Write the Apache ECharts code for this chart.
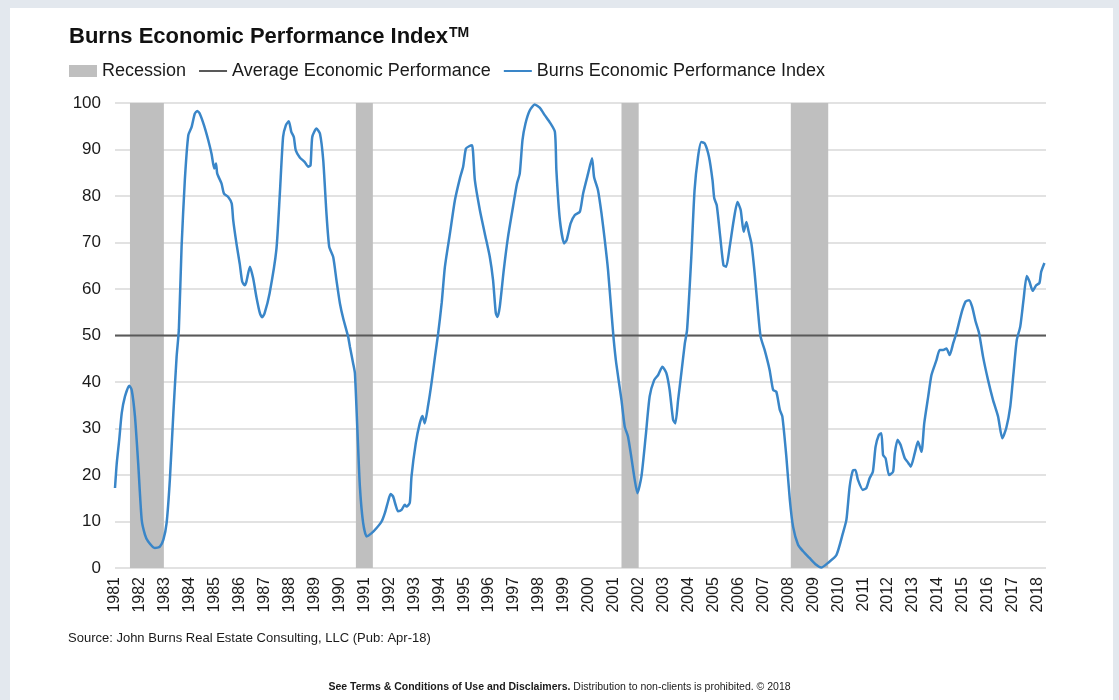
<!DOCTYPE html>
<html lang="en">
<head>
    <meta charset="UTF-8">
    <title>Burns Economic Performance Index</title>
    <script src="https://cdn.jsdelivr.net/npm/echarts@6.0.0/dist/echarts.min.js"></script>
    <style>
        body { margin: 0; background: #e3e8ee; }
        #panel { position: absolute; left: 10px; top: 8px; width: 1103px; height: 692px; background: #fff; }
        #chart { position: absolute; left: 0; top: 0; width: 1119px; height: 700px; }
    </style>
</head>
<body>
<div id="panel"></div>
<div id="chart"></div>
<script>
    // recession periods (decimal years)
    var recStart = [1981.6, 1990.66, 2001.31, 2008.1];
    var recEnd = [1982.96, 1991.34, 2002.0, 2009.6];

    var avgLevel = 50;
    var xMin = 1981, xMax = 2018.333;

    // Burns Economic Performance Index, [decimal year, value]
    var bepi = [
        [1981.0, 17.2], [1981.07, 22.5], [1981.17, 27.6], [1981.27, 33.3], [1981.4, 36.9], [1981.57, 39.2],
        [1981.67, 38.3], [1981.8, 32.6], [1981.93, 22.5], [1982.07, 10.4], [1982.2, 7.2], [1982.33, 5.7],
        [1982.6, 4.3], [1982.8, 4.6], [1982.94, 6.1], [1983.07, 9.7], [1983.2, 19], [1983.34, 33.3],
        [1983.47, 45.4], [1983.56, 51.2], [1983.67, 69.1], [1983.8, 83.4], [1983.94, 93.1], [1984.07, 94.8],
        [1984.2, 97.7], [1984.3, 98.3], [1984.4, 97.7], [1984.57, 95.2], [1984.74, 92], [1984.87, 89.1],
        [1984.98, 85.9], [1985.05, 87], [1985.1, 84.8], [1985.27, 82.7], [1985.37, 80.5], [1985.54, 79.8],
        [1985.68, 78.4], [1985.74, 74.8], [1985.87, 69.8], [1986.0, 65.5], [1986.1, 61.6], [1986.2, 60.8],
        [1986.27, 61.6], [1986.41, 64.8], [1986.54, 62.3], [1986.67, 58.3], [1986.81, 54.8], [1986.9, 53.9],
        [1987.0, 54.8], [1987.2, 59.1], [1987.47, 68.4], [1987.61, 80.5], [1987.74, 92.7], [1987.85, 95.2],
        [1987.97, 96.1], [1988.07, 93.8], [1988.17, 92.7], [1988.25, 89.8], [1988.41, 88.3], [1988.61, 87.3],
        [1988.75, 86.3], [1988.84, 86.6], [1988.91, 92.7], [1989.08, 94.5], [1989.22, 93.4], [1989.35, 87.7],
        [1989.48, 76.2], [1989.59, 69.1], [1989.75, 66.9], [1989.88, 61.9], [1990.02, 56.9], [1990.15, 53.7],
        [1990.35, 49.7], [1990.42, 47.6], [1990.55, 44], [1990.62, 41.9], [1990.72, 29.7], [1990.82, 17.5],
        [1990.95, 9.7], [1991.09, 6.8], [1991.29, 7.5], [1991.49, 8.6], [1991.69, 10], [1991.82, 11.8],
        [1991.95, 14.3], [1992.05, 15.9], [1992.15, 15.4], [1992.25, 13.6], [1992.35, 12.2], [1992.49, 12.5],
        [1992.62, 13.6], [1992.69, 13.2], [1992.82, 14], [1992.89, 19.7], [1993.06, 26.8], [1993.22, 31.1],
        [1993.33, 32.7], [1993.42, 31.1], [1993.56, 35.1], [1993.69, 39.7], [1993.83, 45.4], [1993.96, 50.5],
        [1994.1, 57], [1994.23, 64.8], [1994.43, 71.9], [1994.63, 79.1], [1994.83, 83.8], [1994.96, 86.3],
        [1995.07, 90.2], [1995.2, 90.7], [1995.32, 90.9], [1995.43, 83.4], [1995.63, 77], [1995.83, 71.9],
        [1996.03, 66.9], [1996.16, 61.9], [1996.27, 54.8], [1996.34, 54], [1996.43, 56.2], [1996.59, 64.1],
        [1996.76, 71.2], [1996.96, 77.7], [1997.12, 82.7], [1997.23, 84.8], [1997.34, 92], [1997.46, 95.6],
        [1997.63, 98.4], [1997.83, 99.7], [1998.03, 99], [1998.23, 97.4], [1998.43, 95.9], [1998.64, 93.8],
        [1998.7, 85.5], [1998.84, 74.8], [1999.01, 69.8], [1999.11, 70.5], [1999.27, 74.1], [1999.44, 75.9],
        [1999.64, 76.6], [1999.77, 80.5], [1999.97, 84.8], [2000.13, 88.1], [2000.21, 84.1], [2000.37, 81.2],
        [2000.51, 76.2], [2000.64, 70.5], [2000.77, 64.1], [2000.91, 54.8], [2001.0, 49], [2001.1, 44],
        [2001.31, 36.1], [2001.44, 30.4], [2001.57, 28.3], [2001.7, 24], [2001.84, 19], [2001.95, 16.1],
        [2002.11, 19.7], [2002.28, 28.3], [2002.44, 36.9], [2002.62, 40.4], [2002.78, 41.5], [2002.95, 43.3],
        [2003.11, 41.9], [2003.24, 38.3], [2003.38, 31.9], [2003.47, 31.1], [2003.58, 36.1], [2003.71, 41.9],
        [2003.85, 48.3], [2003.94, 51.2], [2004.11, 66.9], [2004.24, 81.2], [2004.38, 88.4], [2004.51, 91.6],
        [2004.65, 91.3], [2004.82, 88.4], [2004.96, 83.4], [2005.03, 79.5], [2005.13, 78], [2005.27, 71.2],
        [2005.4, 65.1], [2005.51, 64.8], [2005.65, 69.1], [2005.81, 74.8], [2005.96, 78.7], [2006.09, 77],
        [2006.21, 72.3], [2006.32, 74.4], [2006.41, 72.3], [2006.52, 69.8], [2006.65, 63.4], [2006.78, 55.5],
        [2006.89, 49.7], [2007.05, 46.9], [2007.25, 42.6], [2007.39, 38.3], [2007.52, 37.9], [2007.66, 34],
        [2007.76, 32.6], [2007.92, 24], [2008.06, 14.7], [2008.19, 8.9], [2008.39, 5], [2008.59, 3.6],
        [2008.86, 2.1], [2009.12, 0.7], [2009.32, 0.1], [2009.59, 1.1], [2009.93, 2.8], [2010.19, 7.5],
        [2010.33, 10.4], [2010.46, 17.5], [2010.59, 21], [2010.69, 21.1], [2010.79, 19], [2010.99, 16.8],
        [2011.13, 17.2], [2011.26, 19.3], [2011.39, 20.7], [2011.5, 26.1], [2011.63, 28.6], [2011.73, 29],
        [2011.8, 24.3], [2011.9, 23.6], [2012.04, 20], [2012.2, 20.7], [2012.27, 24.7], [2012.38, 27.6],
        [2012.5, 26.5], [2012.67, 23.6], [2012.81, 22.6], [2012.91, 21.8], [2013.07, 24.7], [2013.2, 27.2],
        [2013.34, 25], [2013.45, 31.1], [2013.61, 36.9], [2013.74, 41.5], [2013.94, 44.7], [2014.07, 46.9],
        [2014.21, 46.9], [2014.34, 47.2], [2014.47, 45.8], [2014.61, 48.3], [2014.74, 50.5], [2014.87, 53.3],
        [2014.98, 55.5], [2015.11, 57.3], [2015.25, 57.6], [2015.37, 56.2], [2015.51, 53], [2015.65, 50.5],
        [2015.81, 45.4], [2016.01, 40.4], [2016.21, 36.1], [2016.41, 32.6], [2016.58, 27.9], [2016.74, 30.1],
        [2016.9, 34.7], [2017.03, 41.9], [2017.16, 49], [2017.3, 51.9], [2017.43, 57.6], [2017.56, 62.8],
        [2017.67, 61.6], [2017.8, 59.6], [2017.94, 60.8], [2018.07, 61.3], [2018.14, 63.7], [2018.27, 65.6]
    ];

    var font = 'Liberation Sans, Arial, sans-serif';

    // thin bar inside a 28x12 box (tiny corner dots keep the box size)
    var lineIcon = 'path://M0,0h0.01v0.01h-0.01z M0,5h28v2h-28z M27.99,11.99h0.01v0.01h-0.01z';

    var recData = recStart.map(function (s, i) {
        return [s, recEnd[i]];
    });

    var option = {
        animation: false,
        backgroundColor: 'transparent',
        textStyle: { fontFamily: font },
        title: {
            text: '{a|Burns Economic Performance Index}{b|TM}',
            left: 64,
            top: 21,
            textStyle: {
                rich: {
                    a: { fontSize: 22, fontWeight: 'bold', color: '#111', fontFamily: font },
                    b: { fontSize: 14, fontWeight: 'bold', color: '#111', fontFamily: font, verticalAlign: 'top', padding: [0, 0, 8, 1] }
                }
            }
        },
        legend: {
            left: 64,
            top: 57,
            itemWidth: 28,
            itemHeight: 12,
            itemGap: 13,
            textStyle: { fontSize: 18, color: '#1a1a1a', fontFamily: font },
            data: [
                { name: 'Recession', icon: 'rect' },
                { name: 'Average Economic Performance', icon: lineIcon },
                { name: 'Burns Economic Performance Index', icon: lineIcon }
            ]
        },
        grid: {
            left: 115,
            right: 73,
            top: 103,
            bottom: 132
        },
        xAxis: {
            type: 'value',
            min: xMin,
            max: xMax,
            interval: 1,
            axisLine: { show: false },
            axisTick: { show: false },
            splitLine: { show: false },
            axisLabel: {
                rotate: 90,
                margin: 9,
                fontSize: 16,
                color: '#1a1a1a',
                showMaxLabel: false,
                formatter: function (v) { return Math.round(v); }
            }
        },
        yAxis: {
            type: 'value',
            min: 0,
            max: 100,
            interval: 10,
            axisLine: { show: false },
            axisTick: { show: false },
            axisLabel: { fontSize: 17, color: '#1a1a1a', margin: 14 },
            splitLine: { lineStyle: { color: '#d9d9d9', width: 1.5 } }
        },
        series: [
            {
                name: 'Recession',
                type: 'custom',
                itemStyle: { color: '#bfbfbf' },
                encode: { x: [0, 1], y: -1 },
                data: recData,
                z: 1,
                renderItem: function (params, api) {
                    var p0 = api.coord([api.value(0), 100]);
                    var p1 = api.coord([api.value(1), 0]);
                    return {
                        type: 'rect',
                        shape: { x: p0[0], y: p0[1], width: p1[0] - p0[0], height: p1[1] - p0[1] },
                        style: { fill: '#bfbfbf' }
                    };
                }
            },
            {
                name: 'Average Economic Performance',
                type: 'line',
                symbol: 'none',
                color: '#595959',
                lineStyle: { color: '#595959', width: 2 },
                data: [[xMin, avgLevel], [xMax, avgLevel]],
                z: 3
            },
            {
                name: 'Burns Economic Performance Index',
                type: 'line',
                symbol: 'none',
                smooth: 0.2,
                color: '#3a86c8',
                lineStyle: { color: '#3a86c8', width: 2.5 },
                data: bepi,
                z: 4
            }
        ],
        graphic: [
            {
                type: 'text',
                left: 68,
                top: 632,
                style: {
                    text: 'Source: John Burns Real Estate Consulting, LLC (Pub: Apr-18)',
                    font: '13px ' + font,
                    fill: '#1a1a1a'
                }
            },
            {
                type: 'text',
                left: 'center',
                top: 682,
                style: {
                    text: '{b|See Terms & Conditions of Use and Disclaimers.} Distribution to non-clients is prohibited. \u00a9 2018',
                    font: '10.5px ' + font,
                    fill: '#1a1a1a',
                    rich: {
                        b: { fontWeight: 'bold', fontSize: 10.5, fontFamily: font, fill: '#1a1a1a' }
                    }
                }
            }
        ]
    };

    var myChart = echarts.init(document.getElementById('chart'));
    myChart.setOption(option);
</script>
</body>
</html>
